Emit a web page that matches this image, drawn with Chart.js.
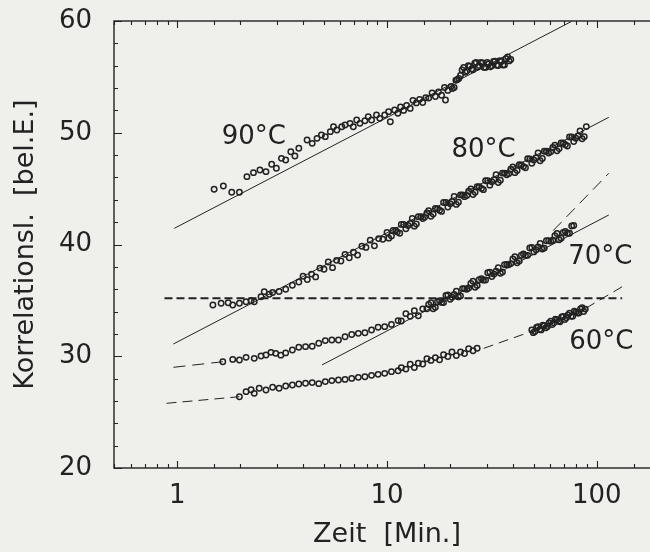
<!DOCTYPE html>
<html>
<head>
<meta charset="utf-8">
<title>Korrelationslänge</title>
<script src="https://cdn.jsdelivr.net/npm/chart.js@4.4.1/dist/chart.umd.min.js"></script>
<style>
   html, body { margin: 0; padding: 0; background: #efefec; overflow: hidden; }
   #wrap { width: 650px; height: 552px; overflow: hidden; }
   canvas { display: block; }
</style>
</head>
<body>
<div id="wrap"><canvas id="canvas" width="680" height="552"></canvas></div>
<script>
// Messwerte: Zeit [Min.] und Korrelationslaenge [bel.E.] je Temperatur
var time90 = [1.50,1.66,1.82,1.98,2.15,2.31,2.48,2.65,2.82,2.97,3.14,3.29,3.48,3.64,3.80,
   4.16,4.40,4.64,4.87,5.08,5.37,5.56,5.77,6.09,6.31,6.67,6.91,7.17,7.43,7.85,8.14,8.44,8.91,9.24,9.75,10.18,10.37,10.87,11.27,
   11.6,12.0,12.4,12.9,13.3,13.8,14.3,14.8,15.3,15.8,16.4,17.0,17.6,18.2,18.8,19.0,19.5,20.2,20.9,21.6,
   22.4,23.2,24.0,24.8,25.7,26.6,27.5,28.5,29.5,30.5,31.6,32.7,33.9,35.1,36.3,37.6,38.9,
   20.5,21.3,22.0,22.8,23.6,24.4,25.3,26.2,27.1,28.0,29.0,30.0,31.1,32.2,33.3,34.5,35.7,36.9,38.2];
var korr90 = [44.94,45.23,44.67,44.67,46.07,46.43,46.67,46.52,47.18,46.82,47.71,47.56,48.30,47.92,48.61,
   49.35,49.05,49.50,49.80,49.65,50.10,50.54,50.25,50.54,50.69,50.84,50.54,51.14,50.84,51.08,51.44,51.14,51.59,51.29,51.59,51.89,50.99,52.04,51.74,
   52.30,52.00,52.45,52.18,52.90,52.67,52.99,52.71,53.13,53.10,53.57,53.24,53.66,53.36,54.05,52.93,53.79,54.15,54.05,54.75,
   55.12,55.85,55.52,55.96,55.64,56.30,56.01,56.25,55.85,56.15,56.00,56.41,56.02,56.38,56.07,56.78,56.55,
   53.95,54.70,54.85,55.61,55.41,55.99,55.71,56.22,55.88,56.29,55.85,56.30,55.90,56.38,56.04,56.45,56.06,56.63,56.43];

var time80 = [1.48,1.62,1.75,1.84,1.98,2.13,2.25,2.33,2.51,2.60,2.75,2.85,3.06,3.29,3.54,3.80,
   3.98,4.17,4.37,4.57,4.79,5.01,5.25,5.50,5.75,6.03,6.31,6.61,6.92,7.24,7.59,7.94,8.32,8.71,9.12,9.55,
   10.0,10.5,11.0,11.5,12.0,12.6,13.2,13.8,14.5,15.1,15.8,16.6,17.4,18.2,19.1,20.0,20.9,21.9,22.9,24.0,
   25.1,26.3,27.5,28.8,30.2,31.6,33.1,34.7,36.3,38.0,39.8,41.7,43.7,45.7,47.9,50.1,52.5,55.0,57.5,60.3,
   63.1,66.1,69.2,72.4,75.9,79.4,83.2,87.1,89.1,
   10.2,10.7,11.2,11.7,12.3,12.9,13.5,14.1,14.8,15.5,16.2,17.0,17.8,18.6,19.5,20.4,21.4,22.4,23.4,24.5,
   25.7,26.9,28.2,29.5,30.9,32.4,33.9,35.5,37.2,38.9,40.7,42.7,44.7,46.8,49.0,51.3,53.7,56.2,58.9,61.7,
   64.6,67.6,70.8,74.1,77.6,81.3,85.1];
var korr80 = [34.59,34.74,34.79,34.59,34.74,34.88,34.97,34.88,35.33,35.78,35.55,35.70,35.80,36.00,36.35,36.65,
   37.16,36.86,37.35,37.10,37.89,37.79,38.43,37.93,38.58,38.52,39.12,38.81,39.31,39.05,39.85,39.74,40.39,39.88,40.53,40.47,
   41.07,40.77,41.26,41.01,41.80,41.70,42.34,41.84,42.48,42.43,43.02,42.72,43.21,42.96,43.76,43.65,44.30,43.79,44.44,44.38,
   44.98,44.67,45.17,44.91,45.71,45.61,46.25,45.75,46.39,46.34,46.93,46.63,47.12,46.87,47.66,47.56,48.20,47.70,48.35,48.29,
   48.89,48.58,49.08,48.82,49.62,49.51,50.16,49.65,50.55,
   40.57,41.26,41.11,41.80,41.40,41.89,41.64,42.49,42.33,42.83,42.52,43.22,43.06,43.76,43.35,43.85,43.59,44.44,44.28,44.78,
   44.48,45.17,45.02,45.71,45.31,45.80,45.55,46.39,46.24,46.73,46.43,47.13,46.97,47.67,47.26,47.76,47.50,48.35,48.19,48.69,
   48.38,49.08,48.92,49.62,49.22,49.71,49.46];

var time70 = [1.65,1.84,1.98,2.13,2.33,2.51,2.65,2.80,2.95,3.12,3.29,3.54,3.80,4.09,4.40,4.73,5.08,5.46,5.87,6.31,
   6.79,7.30,7.85,8.44,9.07,9.75,10.5,11.3,
   11.7,12.3,12.9,13.5,14.1,14.8,15.5,16.2,17.0,17.8,18.6,19.5,20.4,21.4,22.4,23.4,24.5,25.7,26.9,28.2,
   29.5,30.9,32.4,33.9,35.5,37.2,38.9,40.7,42.7,44.7,46.8,49.0,51.3,53.7,56.2,58.9,61.7,64.6,67.6,70.8,74.1,77.6,
   15.8,16.6,17.4,18.2,19.1,20.0,20.9,21.9,22.9,24.0,25.1,26.3,27.5,28.8,30.2,31.6,33.1,34.7,36.3,38.0,
   39.8,41.7,43.7,45.7,47.9,50.1,52.5,55.0,57.5,60.3,63.1,66.1,69.2,72.4,75.9];
var korr70 = [29.51,29.72,29.66,29.90,29.81,30.02,30.11,30.35,30.26,30.10,30.30,30.56,30.80,30.86,30.90,31.16,31.40,31.46,31.45,31.75,
   31.95,32.05,32.10,32.35,32.60,32.65,32.85,33.19,
   33.16,33.81,33.57,34.08,33.63,34.24,34.25,34.80,34.39,34.97,34.81,35.49,35.28,35.81,35.40,36.04,36.11,36.72,36.34,36.95,
   36.82,37.53,37.35,37.92,37.54,38.21,38.29,38.91,38.53,39.15,39.03,39.74,39.54,40.09,39.68,40.33,40.38,40.98,40.57,41.16,41.01,41.70,
   34.63,34.25,34.88,34.82,35.45,35.09,35.52,35.31,36.05,36.00,36.52,36.18,36.85,36.81,37.48,37.14,37.61,37.43,38.20,38.18,
   38.70,38.37,39.04,39.02,39.69,39.34,39.79,39.59,40.33,40.28,40.78,40.43,41.07,41.01,41.66];

var time60 = [1.98,2.13,2.25,2.33,2.46,2.65,2.85,3.06,3.29,3.54,3.80,4.09,4.40,4.73,5.08,5.46,5.87,6.31,6.79,7.30,
   7.85,8.44,9.07,9.75,10.5,11.3,
   11.7,12.3,12.9,13.5,14.1,14.8,15.5,16.2,17.0,17.8,18.6,19.5,20.4,21.4,22.4,23.4,24.5,25.7,26.9,
   49.0,50.7,52.5,54.3,56.2,58.2,60.3,62.4,64.6,66.8,69.2,71.6,74.1,76.7,79.4,82.2,85.1,88.1,
   49.8,51.6,53.4,55.3,57.2,59.2,61.3,63.5,65.7,68.0,70.4,72.9,75.4,78.1,80.8,83.6,86.6];
var korr60 = [26.38,26.83,27.00,26.68,27.13,26.98,27.22,27.13,27.34,27.43,27.52,27.58,27.64,27.55,27.73,27.82,27.87,27.93,28.02,28.11,
   28.17,28.29,28.38,28.47,28.62,28.70,
   28.98,28.85,29.28,29.00,29.38,29.30,29.78,29.63,29.88,29.68,30.13,29.98,30.38,30.06,30.38,30.25,30.67,30.49,30.71,
   32.35,32.22,32.64,32.36,32.74,32.66,33.13,33.00,33.27,33.09,33.57,33.44,33.86,33.58,33.95,33.87,34.34,34.22,
   32.11,32.58,32.40,32.78,32.55,32.97,32.84,33.31,33.13,33.51,33.28,33.70,33.57,34.04,33.86,34.23,34.00];

// Ausgleichsgeraden (durchgezogen) und Anpassungskurven (gestrichelt)
var fitTime90 = [0.97, 75.4],  fitKorr90 = [41.45, 59.94];
var fitTime80 = [0.96, 114],   fitKorr80 = [31.10, 51.38];
var fitTime70 = [4.90, 114],   fitKorr70 = [29.22, 42.64];
var trendTime70 = [[0.96, 1.65], [62.0, 114]];
var trendKorr70 = [[29.01, 29.51], [41.25, 46.37]];
var trendTime60 = [[0.89, 1.98], [28.9, 48.5], [88.7, 132]];
var trendKorr60 = [[25.79, 26.38], [30.71, 32.20], [34.30, 36.22]];
var levelTime = [0.87, 132], levelKorr = [35.2, 35.2];

var tempNames = ['90°C', '80°C', '70°C', '60°C'];
var xTickLabels = [1, 10, 100];
var yTickLabels = [20, 30, 40, 50, 60];

var ink = '#222222';
var fontFamily = "'DejaVu Sans', sans-serif";

// Lage der Temperaturbeschriftungen im Diagramm (Zeit, Wert)
var tempLabelPos = [[1.63, 49.57], [20.3, 48.46], [73, 38.84], [73.8, 31.23]];

function toPoints(times, values){
   return times.map(function(t, i){ return {x: t, y: values[i]}; });
}

function measured(times, values){
   return {
      data: toPoints(times, values),
      showLine: false,
      pointStyle: 'circle',
      pointRadius: 2.7,
      pointBorderWidth: 1.5,
      pointBorderColor: ink,
      pointBackgroundColor: 'rgba(0,0,0,0)',
      order: 0
   };
}

function line(times, values, dash, width){
   return {
      data: toPoints(times, values),
      showLine: true,
      borderColor: ink,
      borderWidth: width || 1,
      borderDash: dash || [],
      pointRadius: 0,
      fill: false,
      order: 1
   };
}

function buildDatasets(){
   var sets = [
      measured(time90, korr90),
      measured(time80, korr80),
      measured(time70, korr70),
      measured(time60, korr60),
      line(fitTime90, fitKorr90),
      line(fitTime80, fitKorr80),
      line(fitTime70, fitKorr70),
      line(levelTime, levelKorr, [8, 4], 2)
   ];
   trendTime70.forEach(function(t, i){ sets.push(line(t, trendKorr70[i], [12, 7])); });
   trendTime60.forEach(function(t, i){ sets.push(line(t, trendKorr60[i], [10, 6])); });
   return sets;
}

// Rahmen, nach innen zeigende Striche und Temperaturangaben
var frameAndTicks = {
   id: 'frameAndTicks',
   afterDatasetsDraw: function(chart){
      var ctx = chart.ctx, a = chart.chartArea;
      var xs = chart.scales.x, ys = chart.scales.y;
      ctx.save();
      ctx.strokeStyle = ink;
      ctx.lineWidth = 1.4;
      ctx.strokeRect(a.left, a.top, a.right - a.left, a.bottom - a.top);

      ctx.lineWidth = 1.1;
      ctx.beginPath();
      xs.ticks.forEach(function(t){
         var px = Math.round(xs.getPixelForValue(t.value)) + 0.5;
         var len = xTickLabels.indexOf(t.value) >= 0 ? 7 : 4;
         ctx.moveTo(px, a.bottom); ctx.lineTo(px, a.bottom - len);
         ctx.moveTo(px, a.top); ctx.lineTo(px, a.top + len);
      });
      ys.ticks.forEach(function(t){
         var py = Math.round(ys.getPixelForValue(t.value)) + 0.5;
         var len = yTickLabels.indexOf(t.value) >= 0 ? 8 : 4;
         ctx.moveTo(a.left, py); ctx.lineTo(a.left + len, py);
         ctx.moveTo(a.right, py); ctx.lineTo(a.right - len, py);
      });
      ctx.stroke();

      ctx.fillStyle = ink;
      ctx.font = '26px ' + fontFamily;
      ctx.textAlign = 'left';
      ctx.textBaseline = 'middle';
      tempNames.forEach(function(name, i){
         var p = tempLabelPos[i];
         ctx.fillText(name, xs.getPixelForValue(p[0]), ys.getPixelForValue(p[1]));
      });
      ctx.restore();
   }
};

var config = {
   type: 'scatter',
   data: { datasets: buildDatasets() },
   options: {
      responsive: false,
      animation: false,
      events: [],
      layout: { padding: { top: 21, right: 20, bottom: 0, left: 0 } },
      plugins: {
         legend: { display: false },
         tooltip: { enabled: false }
      },
      scales: {
         x: {
            type: 'logarithmic',
            min: 0.5,
            max: 200,
            grid: { display: false, drawTicks: false },
            border: { display: false },
            ticks: {
               color: ink,
               font: { family: fontFamily, size: 26 },
               padding: 13,
               autoSkip: false,
               maxRotation: 0,
               callback: function(value){
                  return xTickLabels.indexOf(value) >= 0 ? String(value) : '';
               }
            },
            title: {
               display: true,
               text: 'Zeit  [Min.]',
               color: ink,
               font: { family: fontFamily, size: 27 },
               padding: { top: 0, bottom: 1 }
            },
            afterFit: function(scale){
               scale.height = 84;
               scale.paddingLeft = 0;
               scale.paddingRight = 0;
            }
         },
         y: {
            min: 20,
            max: 60,
            grid: { display: false, drawTicks: false },
            border: { display: false },
            ticks: {
               stepSize: 2,
               autoSkip: false,
               color: ink,
               font: { family: fontFamily, size: 26 },
               padding: 22,
               callback: function(value){
                  return yTickLabels.indexOf(value) >= 0 ? String(value) : '';
               }
            },
            title: {
               display: true,
               text: 'Korrelationsl.  [bel.E.]',
               color: ink,
               font: { family: fontFamily, size: 27 },
               padding: { top: 10, bottom: 0 }
            },
            afterFit: function(scale){
               scale.width = 114;
               scale.paddingTop = 0;
               scale.paddingBottom = 0;
            }
         }
      }
   },
   plugins: [frameAndTicks]
};

window.korrChart = new Chart(document.getElementById('canvas'), config);
</script>
</body>
</html>
